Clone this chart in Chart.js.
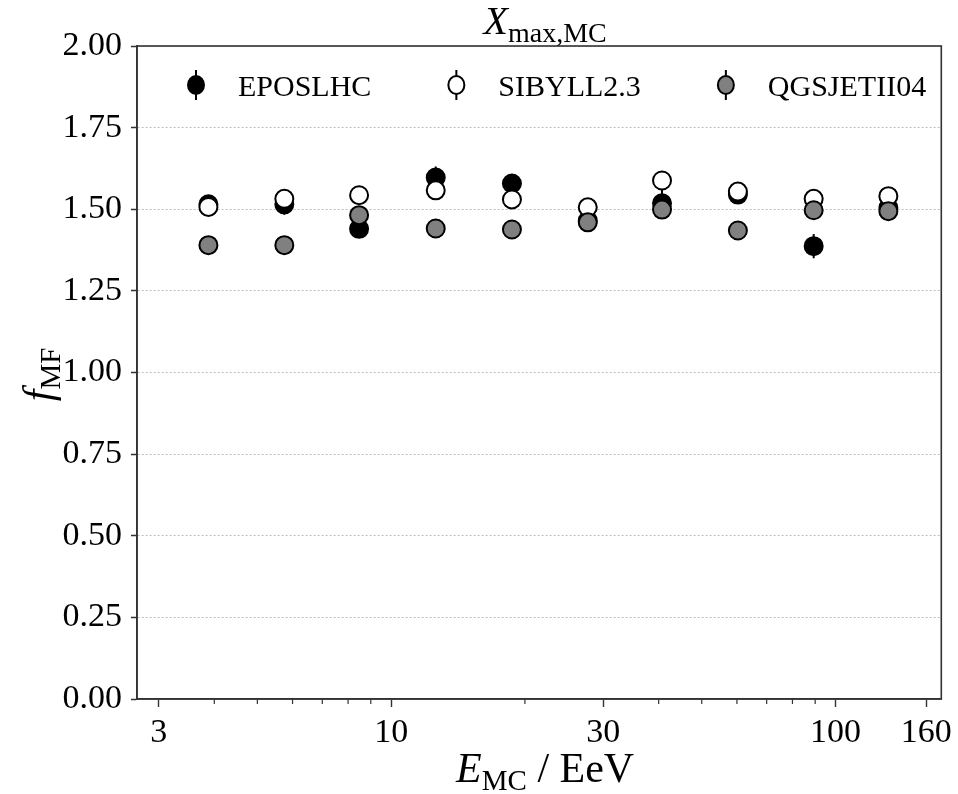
<!DOCTYPE html>
<html>
<head>
<meta charset="utf-8">
<script src="https://cdn.jsdelivr.net/npm/chart.js@4"></script>
<style>
  html, body { margin: 0; padding: 0; background: #fff; }
  #wrap { width: 958px; height: 794px; position: relative; }
</style>
</head>
<body>
<div id="wrap"><canvas id="chart"></canvas></div>
<script>
// ── Data ───────────────────────────────────────────────
const energies = [3.88, 5.75, 8.47, 12.6, 18.7, 27.7, 40.7, 60.3, 89.3, 131.5];

const eposValues   = [1.515, 1.515, 1.440, 1.597, 1.579, 1.465, 1.518, 1.545, 1.387, 1.504];
const eposErrors   = [0.028, 0.032, 0.020, 0.034, 0.015, 0.020, 0.045, 0.025, 0.037, 0.035];

const sibyllValues = [1.507, 1.532, 1.543, 1.558, 1.530, 1.506, 1.588, 1.554, 1.532, 1.540];
const sibyllErrors = [0.015, 0.015, 0.015, 0.015, 0.015, 0.015, 0.015, 0.015, 0.015, 0.015];

const qgsValues    = [1.390, 1.390, 1.482, 1.441, 1.438, 1.460, 1.499, 1.435, 1.497, 1.494];
const qgsErrors    = [0.015, 0.015, 0.015, 0.015, 0.015, 0.020, 0.020, 0.015, 0.015, 0.015];

const seriesNames  = ['EPOSLHC', 'SIBYLL2.3', 'QGSJETII04'];
const seriesColors = ['#000000', '#ffffff', '#808080'];

const xTickValues  = [3, 10, 30, 100, 160];
const xMinorTicks  = [4, 5, 6, 7, 8, 9, 20, 40, 50, 60, 70, 80, 90];

// ── Style ──────────────────────────────────────────────
const SERIF = '"Liberation Serif", "DejaVu Serif", serif';
const FRAME = '#333';

const toPoints = (vals) => energies.map((e, i) => ({ x: e, y: vals[i] }));

function dataset(i, vals, errs, order) {
  return {
    label: seriesNames[i],
    data: toPoints(vals),
    errors: errs,
    backgroundColor: seriesColors[i],
    borderColor: '#000',
    pointRadius: 9,
    pointHoverRadius: 9,
    pointBorderWidth: 2,
    order,
  };
}

// ── Text with subscript ────────────────────────────────
function subText(ctx, main, sub, rest, x, y, size) {
  const subSize = Math.round(size * 0.7);
  ctx.font = `italic ${size}px ${SERIF}`;
  const w1 = ctx.measureText(main).width;
  ctx.font = `${subSize}px ${SERIF}`;
  const w2 = ctx.measureText(sub).width;
  ctx.font = `${size}px ${SERIF}`;
  const w3 = rest ? ctx.measureText(rest).width : 0;
  let cx = x - (w1 + w2 + w3) / 2;
  ctx.textAlign = 'left';
  ctx.textBaseline = 'alphabetic';
  ctx.fillStyle = '#000';
  ctx.font = `italic ${size}px ${SERIF}`;
  ctx.fillText(main, cx, y);
  cx += w1;
  ctx.font = `${subSize}px ${SERIF}`;
  ctx.fillText(sub, cx, y + size * 0.2);
  cx += w2;
  if (rest) {
    ctx.font = `${size}px ${SERIF}`;
    ctx.fillText(rest, cx, y);
  }
}

// ── Plugins ────────────────────────────────────────────
const errorBars = {
  id: 'errorBars',
  beforeDatasetDraw(chart, args) {
    const ds = chart.data.datasets[args.index];
    const { x, y } = chart.scales;
    const ctx = chart.ctx;
    ctx.save();
    ctx.strokeStyle = '#000';
    ctx.lineWidth = 2;
    ds.data.forEach((p, i) => {
      const px = x.getPixelForValue(p.x);
      ctx.beginPath();
      ctx.moveTo(px, y.getPixelForValue(p.y - ds.errors[i]));
      ctx.lineTo(px, y.getPixelForValue(p.y + ds.errors[i]));
      ctx.stroke();
    });
    ctx.restore();
  },
};

const frame = {
  id: 'frame',
  beforeDatasetsDraw(chart) {
    const { ctx, chartArea: a, scales } = chart;
    ctx.save();
    ctx.strokeStyle = FRAME;
    ctx.lineWidth = 1.6;
    ctx.strokeRect(a.left, a.top, a.right - a.left, a.bottom - a.top);
    // minor ticks on the log axis
    ctx.lineWidth = 1.2;
    xMinorTicks.forEach(v => {
      const px = scales.x.getPixelForValue(v);
      ctx.beginPath();
      ctx.moveTo(px, a.bottom);
      ctx.lineTo(px, a.bottom + 5);
      ctx.stroke();
    });
    ctx.restore();
  },
};

const labels = {
  id: 'labels',
  afterDraw(chart) {
    const { ctx, chartArea: a } = chart;
    const midX = (a.left + a.right) / 2;
    ctx.save();
    // title
    subText(ctx, 'X', 'max,MC', '', midX + 6, 34, 40);
    // x axis title
    subText(ctx, 'E', 'MC', ' / EeV', midX + 6, 782, 42);
    // y axis title
    ctx.translate(52, (a.top + a.bottom) / 2 + 2);
    ctx.rotate(-Math.PI / 2);
    subText(ctx, 'f', 'MF', '', 0, 0, 42);
    ctx.restore();

    // legend inside the plot
    ctx.save();
    ctx.font = `30px ${SERIF}`;
    ctx.textBaseline = 'alphabetic';
    ctx.textAlign = 'left';
    const ly = a.top + 39;
    let mx = a.left + 59;
    seriesNames.forEach((name, i) => {
      ctx.strokeStyle = '#000';
      ctx.lineWidth = 2;
      ctx.beginPath();
      ctx.moveTo(mx, ly - 15);
      ctx.lineTo(mx, ly + 15);
      ctx.stroke();
      ctx.beginPath();
      ctx.ellipse(mx, ly, 8, 9, 0, 0, Math.PI * 2);
      ctx.fillStyle = seriesColors[i];
      ctx.fill();
      ctx.stroke();
      const tx = mx + 42;
      ctx.fillStyle = '#000';
      ctx.fillText(name, tx, ly + 11);
      mx = tx + ctx.measureText(name).width + 85;
    });
    ctx.restore();
  },
};

// ── Chart ──────────────────────────────────────────────
new Chart(document.getElementById('chart'), {
  type: 'scatter',
  data: {
    datasets: [
      dataset(0, eposValues, eposErrors, 3),
      dataset(1, sibyllValues, sibyllErrors, 2),
      dataset(2, qgsValues, qgsErrors, 1),
    ],
  },
  options: {
    responsive: true,
    maintainAspectRatio: false,
    animation: false,
    layout: { padding: { top: 46, right: 15, left: 0, bottom: 0 } },
    plugins: { legend: { display: false }, tooltip: { enabled: false } },
    scales: {
      x: {
        type: 'logarithmic',
        min: 2.68,
        max: 173,
        afterBuildTicks: (scale) => { scale.ticks = xTickValues.map(v => ({ value: v })); },
        afterFit: (scale) => { scale.height = 95; },
        grid: { drawOnChartArea: false, tickLength: 8, tickWidth: 1.4, tickColor: FRAME },
        border: { color: FRAME, width: 1.6 },
        ticks: {
          autoSkip: false,
          maxRotation: 0,
          padding: 6,
          color: '#000',
          font: { family: SERIF, size: 34 },
          callback: (v) => String(v),
        },
      },
      y: {
        min: 0,
        max: 2,
        afterFit: (scale) => { scale.width = 137; },
        grid: {
          color: '#bdbdbd',
          lineWidth: 1,
          tickLength: 6,
          tickWidth: 1.4,
          tickColor: FRAME,
          tickBorderDash: [1, 0],
        },
        border: { color: FRAME, width: 1.6, dash: [2, 2] },
        ticks: {
          stepSize: 0.25,
          padding: 9,
          color: '#000',
          font: { family: SERIF, size: 34 },
          callback: (v) => v.toFixed(2),
        },
      },
    },
  },
  plugins: [errorBars, frame, labels],
});
</script>
</body>
</html>
